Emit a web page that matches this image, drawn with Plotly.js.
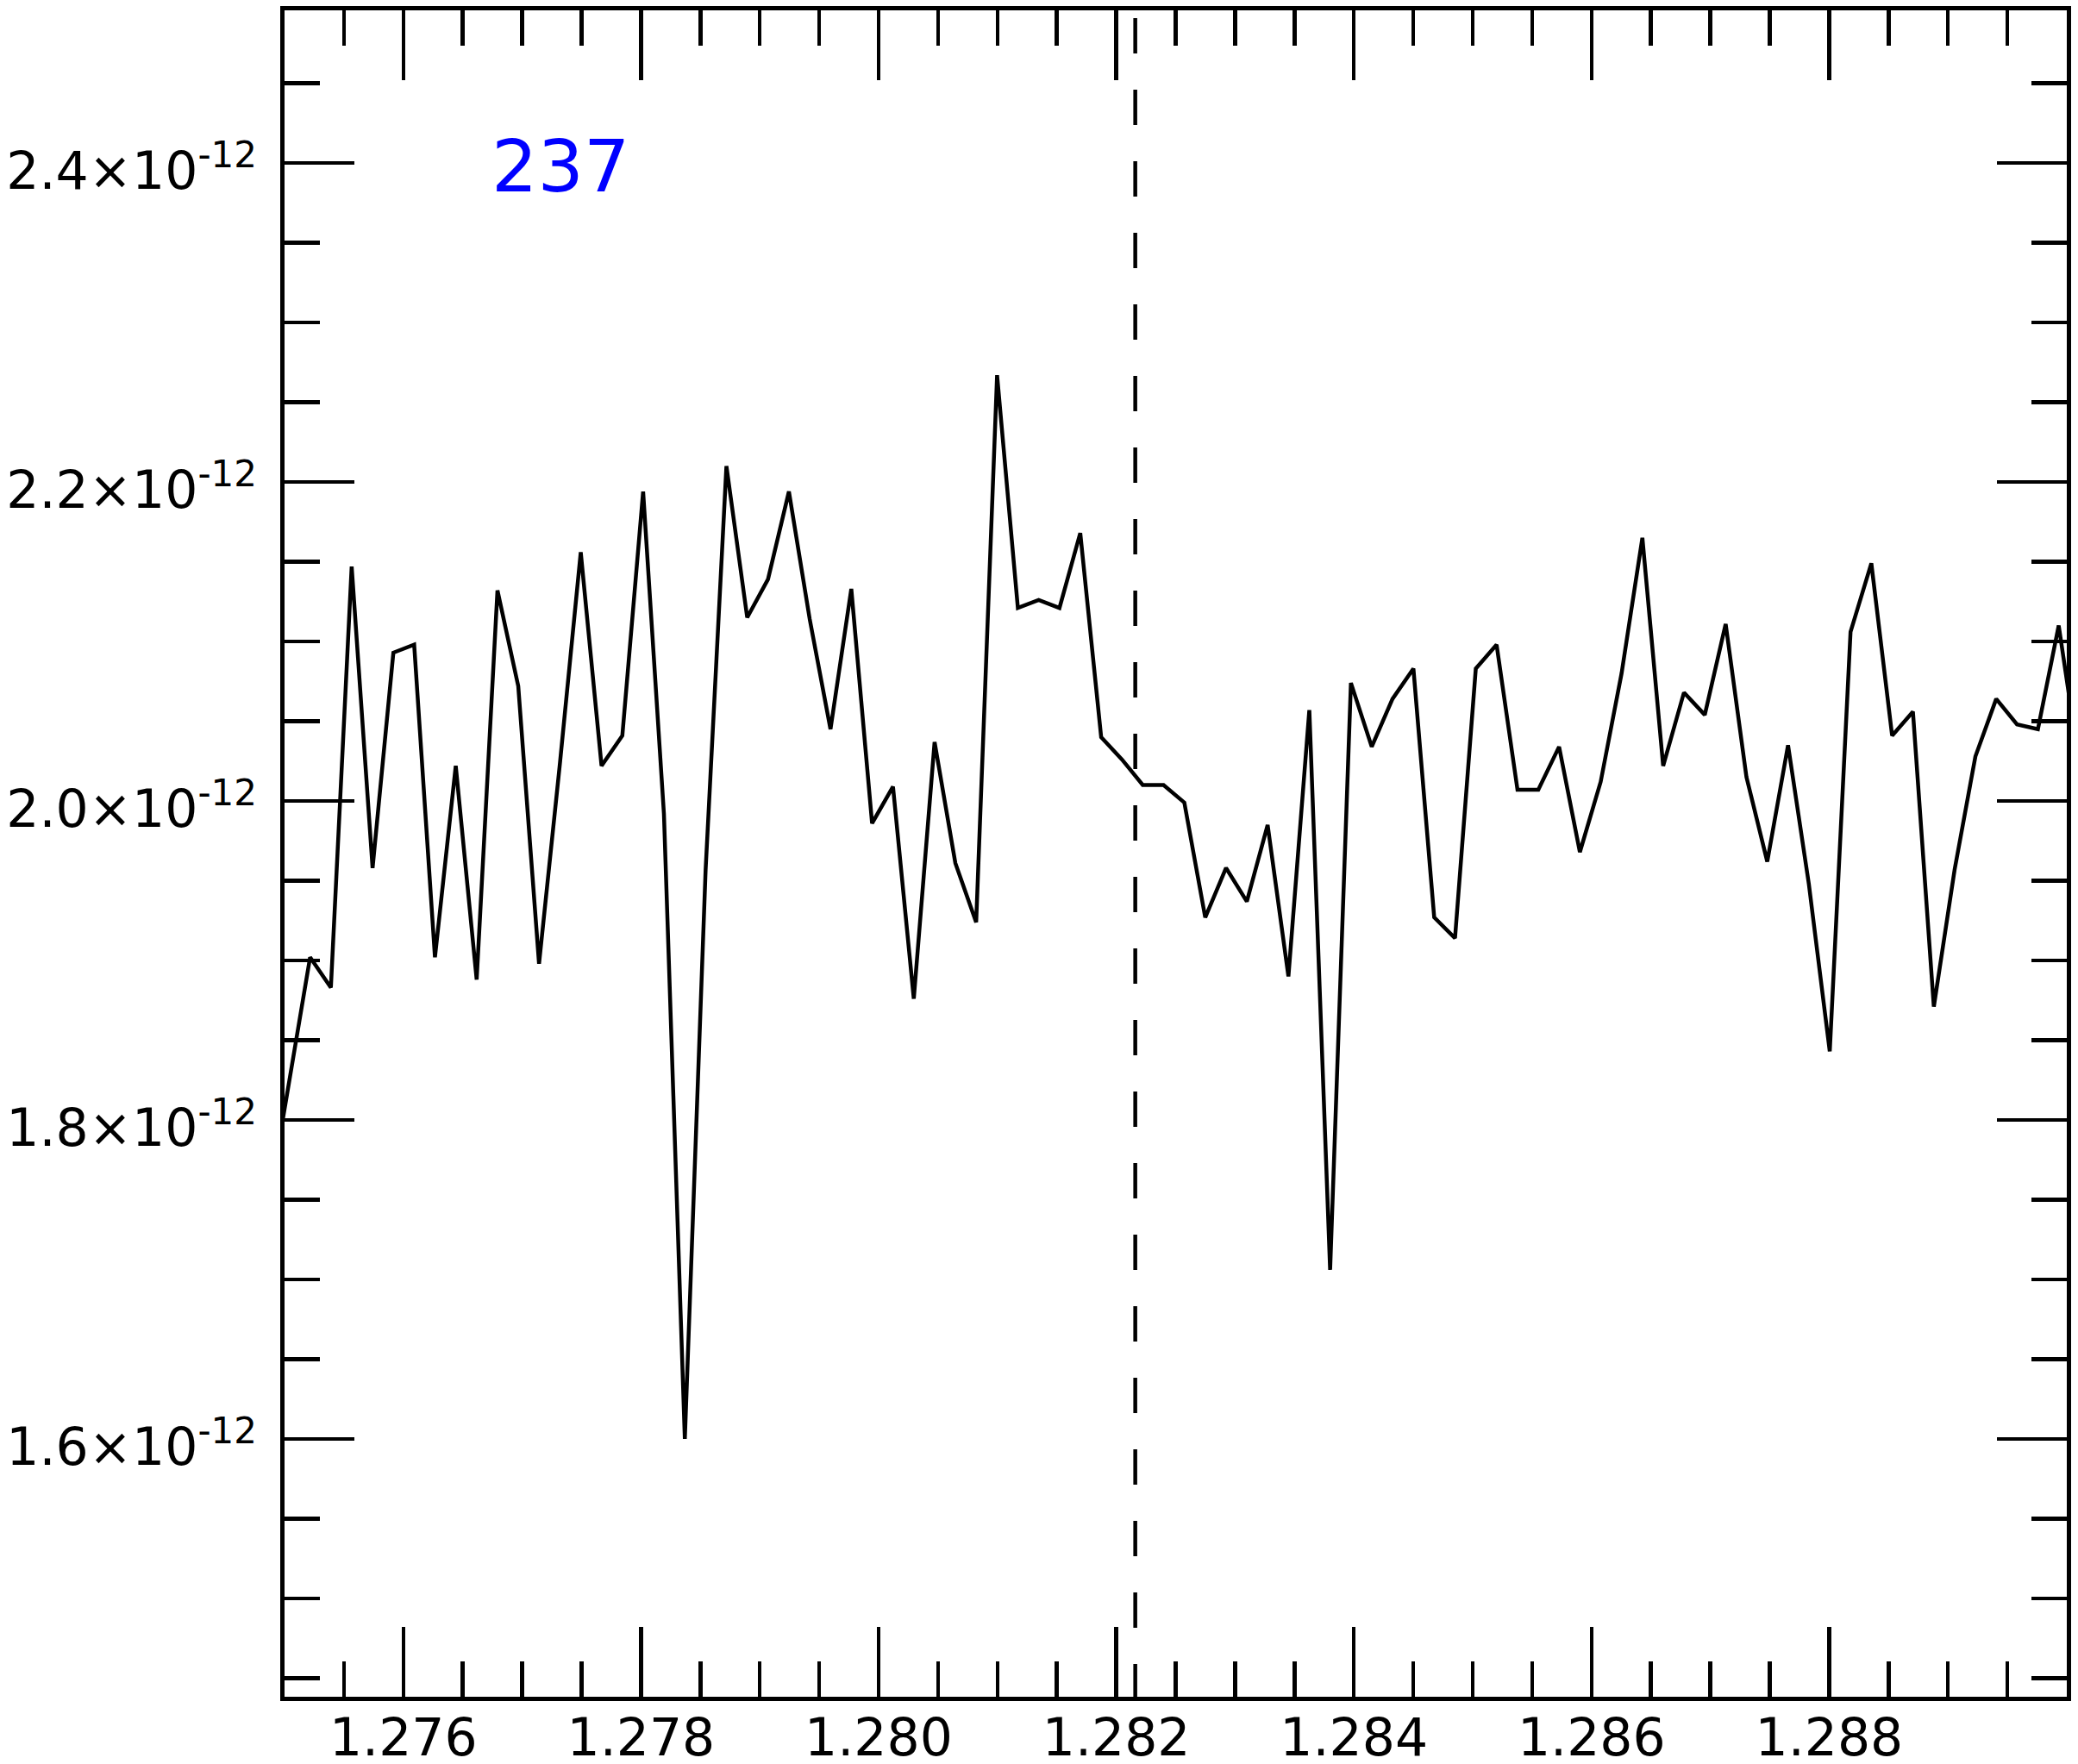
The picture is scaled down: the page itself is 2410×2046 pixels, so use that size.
<!DOCTYPE html>
<html>
<head>
<meta charset="utf-8">
<script src="https://cdn.plot.ly/plotly-3.0.1.min.js"></script>
<style>
  html, body { margin: 0; padding: 0; background: #ffffff; }
  #chart { width: 2410px; height: 2046px; }
</style>
</head>
<body>
<div id="chart"></div>
<script>
// Wavelength (micron) of each spectral pixel
const wavelength = [
  1.274865, 1.275040,
  1.275215, 1.275390, 1.275565, 1.275741, 1.275916, 1.276091, 1.276266, 1.276441, 1.276617, 1.276792,
  1.276967, 1.277142, 1.277317, 1.277493, 1.277668, 1.277843, 1.278018, 1.278193, 1.278369, 1.278544,
  1.278719, 1.278894, 1.279069, 1.279245, 1.279420, 1.279595, 1.279770, 1.279945, 1.280121, 1.280296,
  1.280471, 1.280646, 1.280821, 1.280997, 1.281172, 1.281347, 1.281522, 1.281697, 1.281873, 1.282048,
  1.282223, 1.282398, 1.282573, 1.282749, 1.282924, 1.283099, 1.283274, 1.283449, 1.283625, 1.283800,
  1.283975, 1.284150, 1.284325, 1.284501, 1.284676, 1.284851, 1.285026, 1.285201, 1.285377, 1.285552,
  1.285727, 1.285902, 1.286077, 1.286253, 1.286428, 1.286603, 1.286778, 1.286953, 1.287129, 1.287304,
  1.287479, 1.287654, 1.287829, 1.288005, 1.288180, 1.288355, 1.288530, 1.288705, 1.288881, 1.289056,
  1.289231, 1.289406, 1.289581, 1.289757, 1.289932, 1.290107
];

// Flux of each spectral pixel
const flux = [
  1.747e-12, 1.824e-12,
  1.902e-12, 1.883e-12, 2.147e-12, 1.958e-12, 2.093e-12, 2.098e-12, 1.902e-12, 2.022e-12, 1.888e-12, 2.132e-12,
  2.072e-12, 1.898e-12, 2.023e-12, 2.156e-12, 2.022e-12, 2.041e-12, 2.194e-12, 1.992e-12, 1.600e-12, 1.957e-12,
  2.210e-12, 2.115e-12, 2.139e-12, 2.194e-12, 2.114e-12, 2.045e-12, 2.133e-12, 1.986e-12, 2.009e-12, 1.876e-12,
  2.037e-12, 1.961e-12, 1.924e-12, 2.267e-12, 2.121e-12, 2.126e-12, 2.121e-12, 2.168e-12, 2.040e-12, 2.026e-12,
  2.010e-12, 2.010e-12, 1.999e-12, 1.927e-12, 1.958e-12, 1.937e-12, 1.985e-12, 1.890e-12, 2.057e-12, 1.706e-12,
  2.074e-12, 2.034e-12, 2.064e-12, 2.083e-12, 1.927e-12, 1.914e-12, 2.083e-12, 2.098e-12, 2.007e-12, 2.007e-12,
  2.034e-12, 1.968e-12, 2.012e-12, 2.080e-12, 2.165e-12, 2.022e-12, 2.068e-12, 2.054e-12, 2.111e-12, 2.015e-12,
  1.962e-12, 2.035e-12, 1.948e-12, 1.843e-12, 2.106e-12, 2.149e-12, 2.041e-12, 2.056e-12, 1.871e-12, 1.957e-12,
  2.028e-12, 2.064e-12, 2.048e-12, 2.045e-12, 2.110e-12, 2.022e-12
];

// Reference line (Pa beta) and label
const lineWavelength = 1.28216;
const labelText = "237";
const labelX = 1.27732;
const labelY = 2.398e-12;

// Axis ranges and ticks
const xRange = [1.275, 1.290];
const yRange = [1.4384e-12, 2.4957e-12];
const xTickVals = [1.276, 1.278, 1.280, 1.282, 1.284, 1.286, 1.288];
const xTickText = ["1.276", "1.278", "1.280", "1.282", "1.284", "1.286", "1.288"];
const xMinorStep = 0.0005;
const yTickVals = [1.6e-12, 1.8e-12, 2.0e-12, 2.2e-12, 2.4e-12];
const yTickText = ["1.6×10<sup>-12</sup>", "1.8×10<sup>-12</sup>", "2.0×10<sup>-12</sup>",
                   "2.2×10<sup>-12</sup>", "2.4×10<sup>-12</sup>"];
const yMinorStep = 0.05e-12;

const axisCommon = {
  showline: true,
  linecolor: "#000000",
  linewidth: 5,
  mirror: "allticks",
  ticks: "inside",
  ticklen: 81,
  tickwidth: 4.5,
  tickcolor: "#000000",
  showgrid: false,
  zeroline: false,
  tickfont: { family: "DejaVu Sans", size: 60, color: "#000000" }
};

const trace = {
  type: "scatter",
  mode: "lines",
  x: wavelength,
  y: flux,
  line: { color: "#000000", width: 4.5 },
  hoverinfo: "skip"
};

const layout = {
  width: 2410,
  height: 2046,
  margin: { l: 330, r: 13, t: 12, b: 78, pad: 0 },
  paper_bgcolor: "#ffffff",
  plot_bgcolor: "#ffffff",
  showlegend: false,
  font: { family: "DejaVu Sans", size: 60, color: "#000000" },
  xaxis: Object.assign({}, axisCommon, {
    range: xRange,
    tickmode: "array",
    tickvals: xTickVals,
    ticktext: xTickText,
    ticklabelstandoff: -9,
    minor: { tickmode: "linear", tick0: xRange[0], dtick: xMinorStep, ticks: "inside",
             ticklen: 41, tickwidth: 4.5, tickcolor: "#000000", showgrid: false }
  }),
  yaxis: Object.assign({}, axisCommon, {
    range: yRange,
    tickmode: "array",
    tickvals: yTickVals,
    ticktext: yTickText,
    ticklabelstandoff: 15,
    ticklabelshift: 9,
    minor: { tickmode: "linear", tick0: 0, dtick: yMinorStep, ticks: "inside",
             ticklen: 41, tickwidth: 4.5, tickcolor: "#000000", showgrid: false }
  }),
  shapes: [{
    type: "line",
    xref: "x", yref: "paper",
    x0: lineWavelength, x1: lineWavelength,
    y0: 0.9954, y1: 0,
    line: { color: "#000000", width: 4.5, dash: "41px,42px" },
    layer: "above"
  }],
  annotations: [{
    xref: "x", yref: "y",
    x: labelX, y: labelY,
    text: labelText,
    showarrow: false,
    xanchor: "center", yanchor: "middle",
    font: { family: "DejaVu Sans", size: 84, color: "#0000ff" }
  }]
};

Plotly.newPlot("chart", [trace], layout, { staticPlot: true, displayModeBar: false });
</script>
</body>
</html>
